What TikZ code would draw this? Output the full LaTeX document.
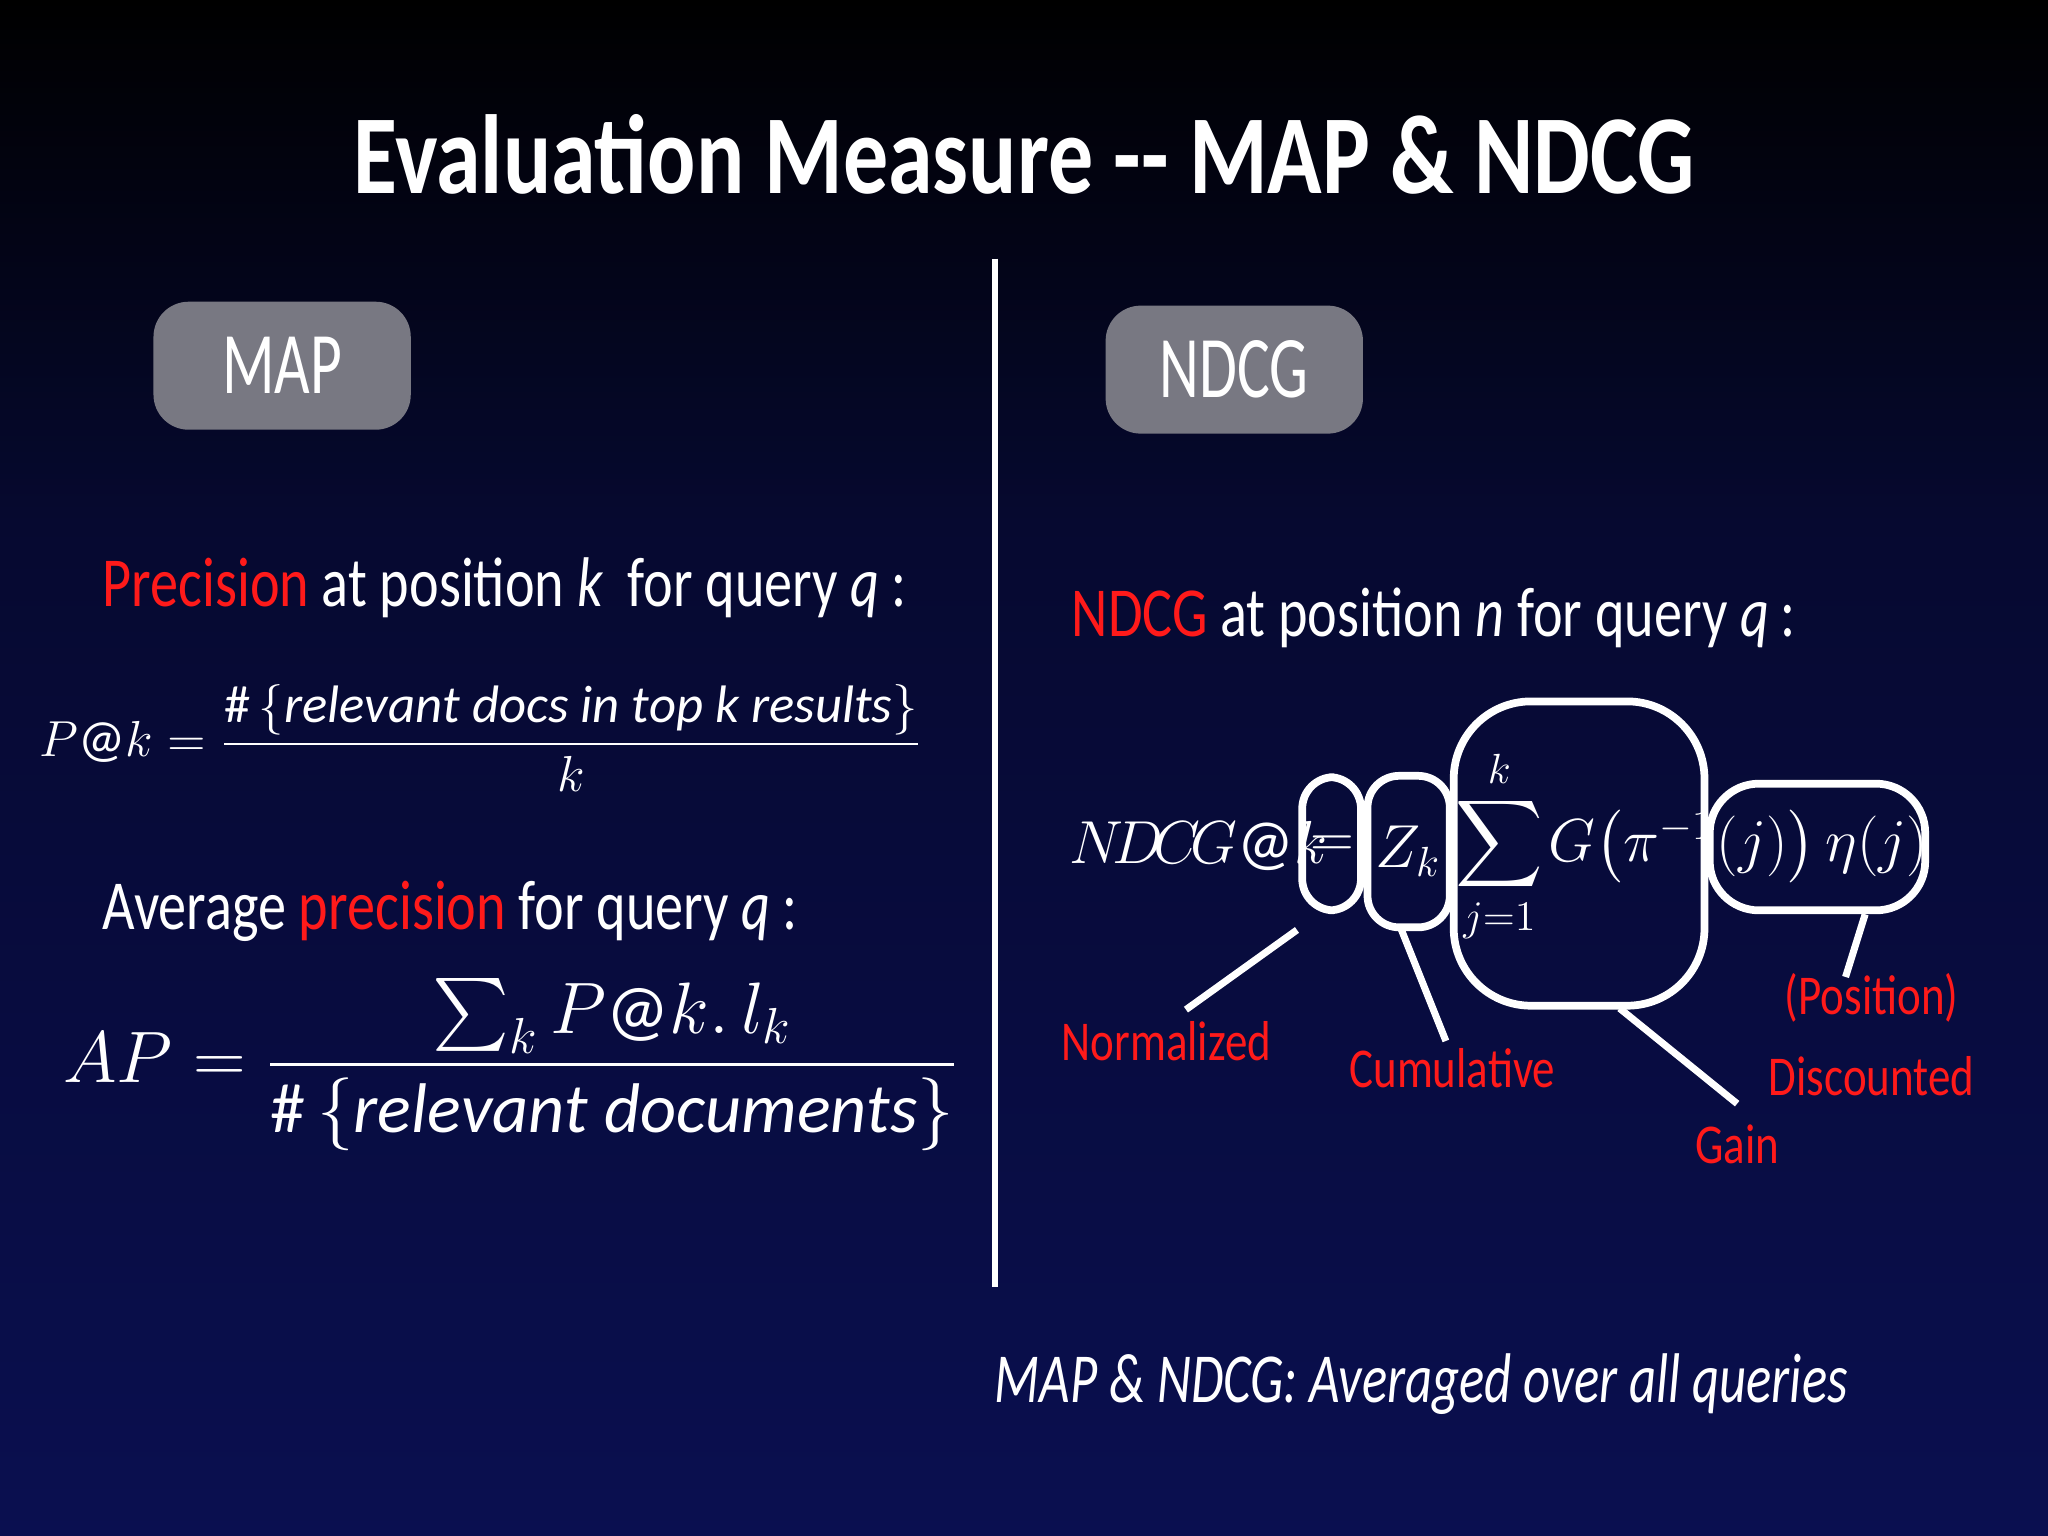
\documentclass[tikz,border=0pt]{standalone}
\usepackage{fontspec}
\usepackage{amsmath}
\setmainfont{Carlito}
\newfontfamily\cond[FakeStretch=0.8]{Carlito}
\newfontfamily\condx[FakeStretch=0.7]{Carlito}
\newfontfamily\condi[FakeStretch=0.75]{Carlito}
\definecolor{bgbot}{HTML}{0A0F50}
\definecolor{bgtop}{HTML}{000000}
\definecolor{boxgray}{HTML}{787882}
\definecolor{hred}{HTML}{FF1A1A}
\newlength{\ux}
\setlength{\ux}{0.013061cm}
\tikzset{
  hdr/.style={rounded corners=10pt,fill=boxgray,minimum width=197\ux,minimum height=98\ux,text=white,font=\condx\fontsize{25}{30}\selectfont},
  txt/.style={text=white,font=\cond\fontsize{20}{24}\selectfont,inner sep=0},
  lab/.style={text=hred,font=\cond\fontsize{16}{19}\selectfont,inner sep=0,align=center},
  mth/.style={text=white,inner sep=0},
  frm/.style={draw=white,line width=2.2pt,rounded corners=9pt},
  ptr/.style={draw=white,line width=2pt}
}
\begin{document}
\begin{tikzpicture}[x=0.013061cm,y=-0.013061cm]
\useasboundingbox (0,0) rectangle (1568,1176);
\shade[top color=bgbot!60!black,bottom color=bgbot] (0,399) rectangle (1568,1176);
\shade[top color=bgtop,bottom color=bgbot!60!black] (0,0) rectangle (1568,400);
\node[text=white,font=\cond\fontsize{32}{38}\selectfont\bfseries] (title) at (784,118) {Evaluation Measure -- MAP \& NDCG};
\coordinate (vt) at (762,198); \coordinate (vb) at (762,985);
\draw[white,line width=1.8pt] (vt) -- (vb);
\node[hdr] (map) at (216,280) {MAP};
\node[hdr] (ndcg) at (945,283) {NDCG};
% left
\node[txt,anchor=west] (prec) at (78,450) {\textcolor{hred}{Precision} at position \textit{k}\, for query \textit{q}\,:};
\node[mth,anchor=west,font=\fontsize{15}{18}\selectfont] (pk) at (30,565) {$P@k = \dfrac{\#\,\{\mathit{relevant\ docs\ in\ top\ k\ results}\}}{k}$};
\node[txt,anchor=west] (avg) at (78,698) {Average \textcolor{hred}{precision} for query \textit{q}\,:};
\node[mth,anchor=west,font=\fontsize{20}{24}\selectfont] (ap) at (48,815) {$AP = \dfrac{\sum_k P@k.\,l_k}{\#\,\{\mathit{relevant\ documents}\}}$};
% right
\node[txt,anchor=west] (ntxt) at (820,473) {\textcolor{hred}{NDCG} at position \textit{n} for query \textit{q}\,:};
\node[mth,anchor=west,font=\fontsize{18}{22}\selectfont] (f1) at (818,648) {$N\!D\!C\!G@k$};
\node[mth,font=\fontsize{18}{22}\selectfont] (f2) at (1020,648) {$=$};
\node[mth,font=\fontsize{18}{22}\selectfont] (f3) at (1078,652) {$Z_k$};
\node[mth,font=\fontsize{17}{20}\selectfont] (f4) at (1148,648) {$\displaystyle\sum_{j=1}^{k}$};
\node[mth,anchor=west,font=\fontsize{17}{20}\selectfont] (f5) at (1185,648) {$G\big(\pi^{-1}$};
\node[mth,anchor=west,font=\fontsize{17}{20}\selectfont] (f6) at (1314,648) {$(j)\big)\,\eta(j)$};
\node[frm,minimum width=45\ux,minimum height=102\ux] (b1) at (1019.5,646) {};
\node[frm,minimum width=63\ux,minimum height=116\ux] (b2) at (1078.5,652) {};
\node[frm,minimum width=192\ux,minimum height=233\ux,rounded corners=22pt] (b3) at (1209,653.5) {};
\node[frm,minimum width=165\ux,minimum height=97\ux,rounded corners=14pt] (b4) at (1391.5,648.5) {};
\node[lab] (lnorm) at (893,797) {Normalized};
\node[lab] (lcum) at (1112,818) {Cumulative};
\node[lab] (lgain) at (1330,876) {Gain};
\node[lab] (ldisc) at (1433,792) {(Position)\\[4pt]Discounted};
\coordinate (p1a) at (993,712); \coordinate (p1b) at (908,773);
\coordinate (p2a) at (1073,712); \coordinate (p2b) at (1107,797);
\coordinate (p3a) at (1240,772); \coordinate (p3b) at (1330,845);
\coordinate (p4a) at (1428,700); \coordinate (p4b) at (1413,748);
\draw[ptr] (p1a) -- (p1b); \draw[ptr] (p2a) -- (p2b);
\draw[ptr] (p3a) -- (p3b); \draw[ptr] (p4a) -- (p4b);
\node[text=white,font=\condi\fontsize{20}{24}\selectfont\itshape] (bot) at (1088,1060) {MAP \& NDCG: Averaged over all queries};
\end{tikzpicture}
\end{document}
